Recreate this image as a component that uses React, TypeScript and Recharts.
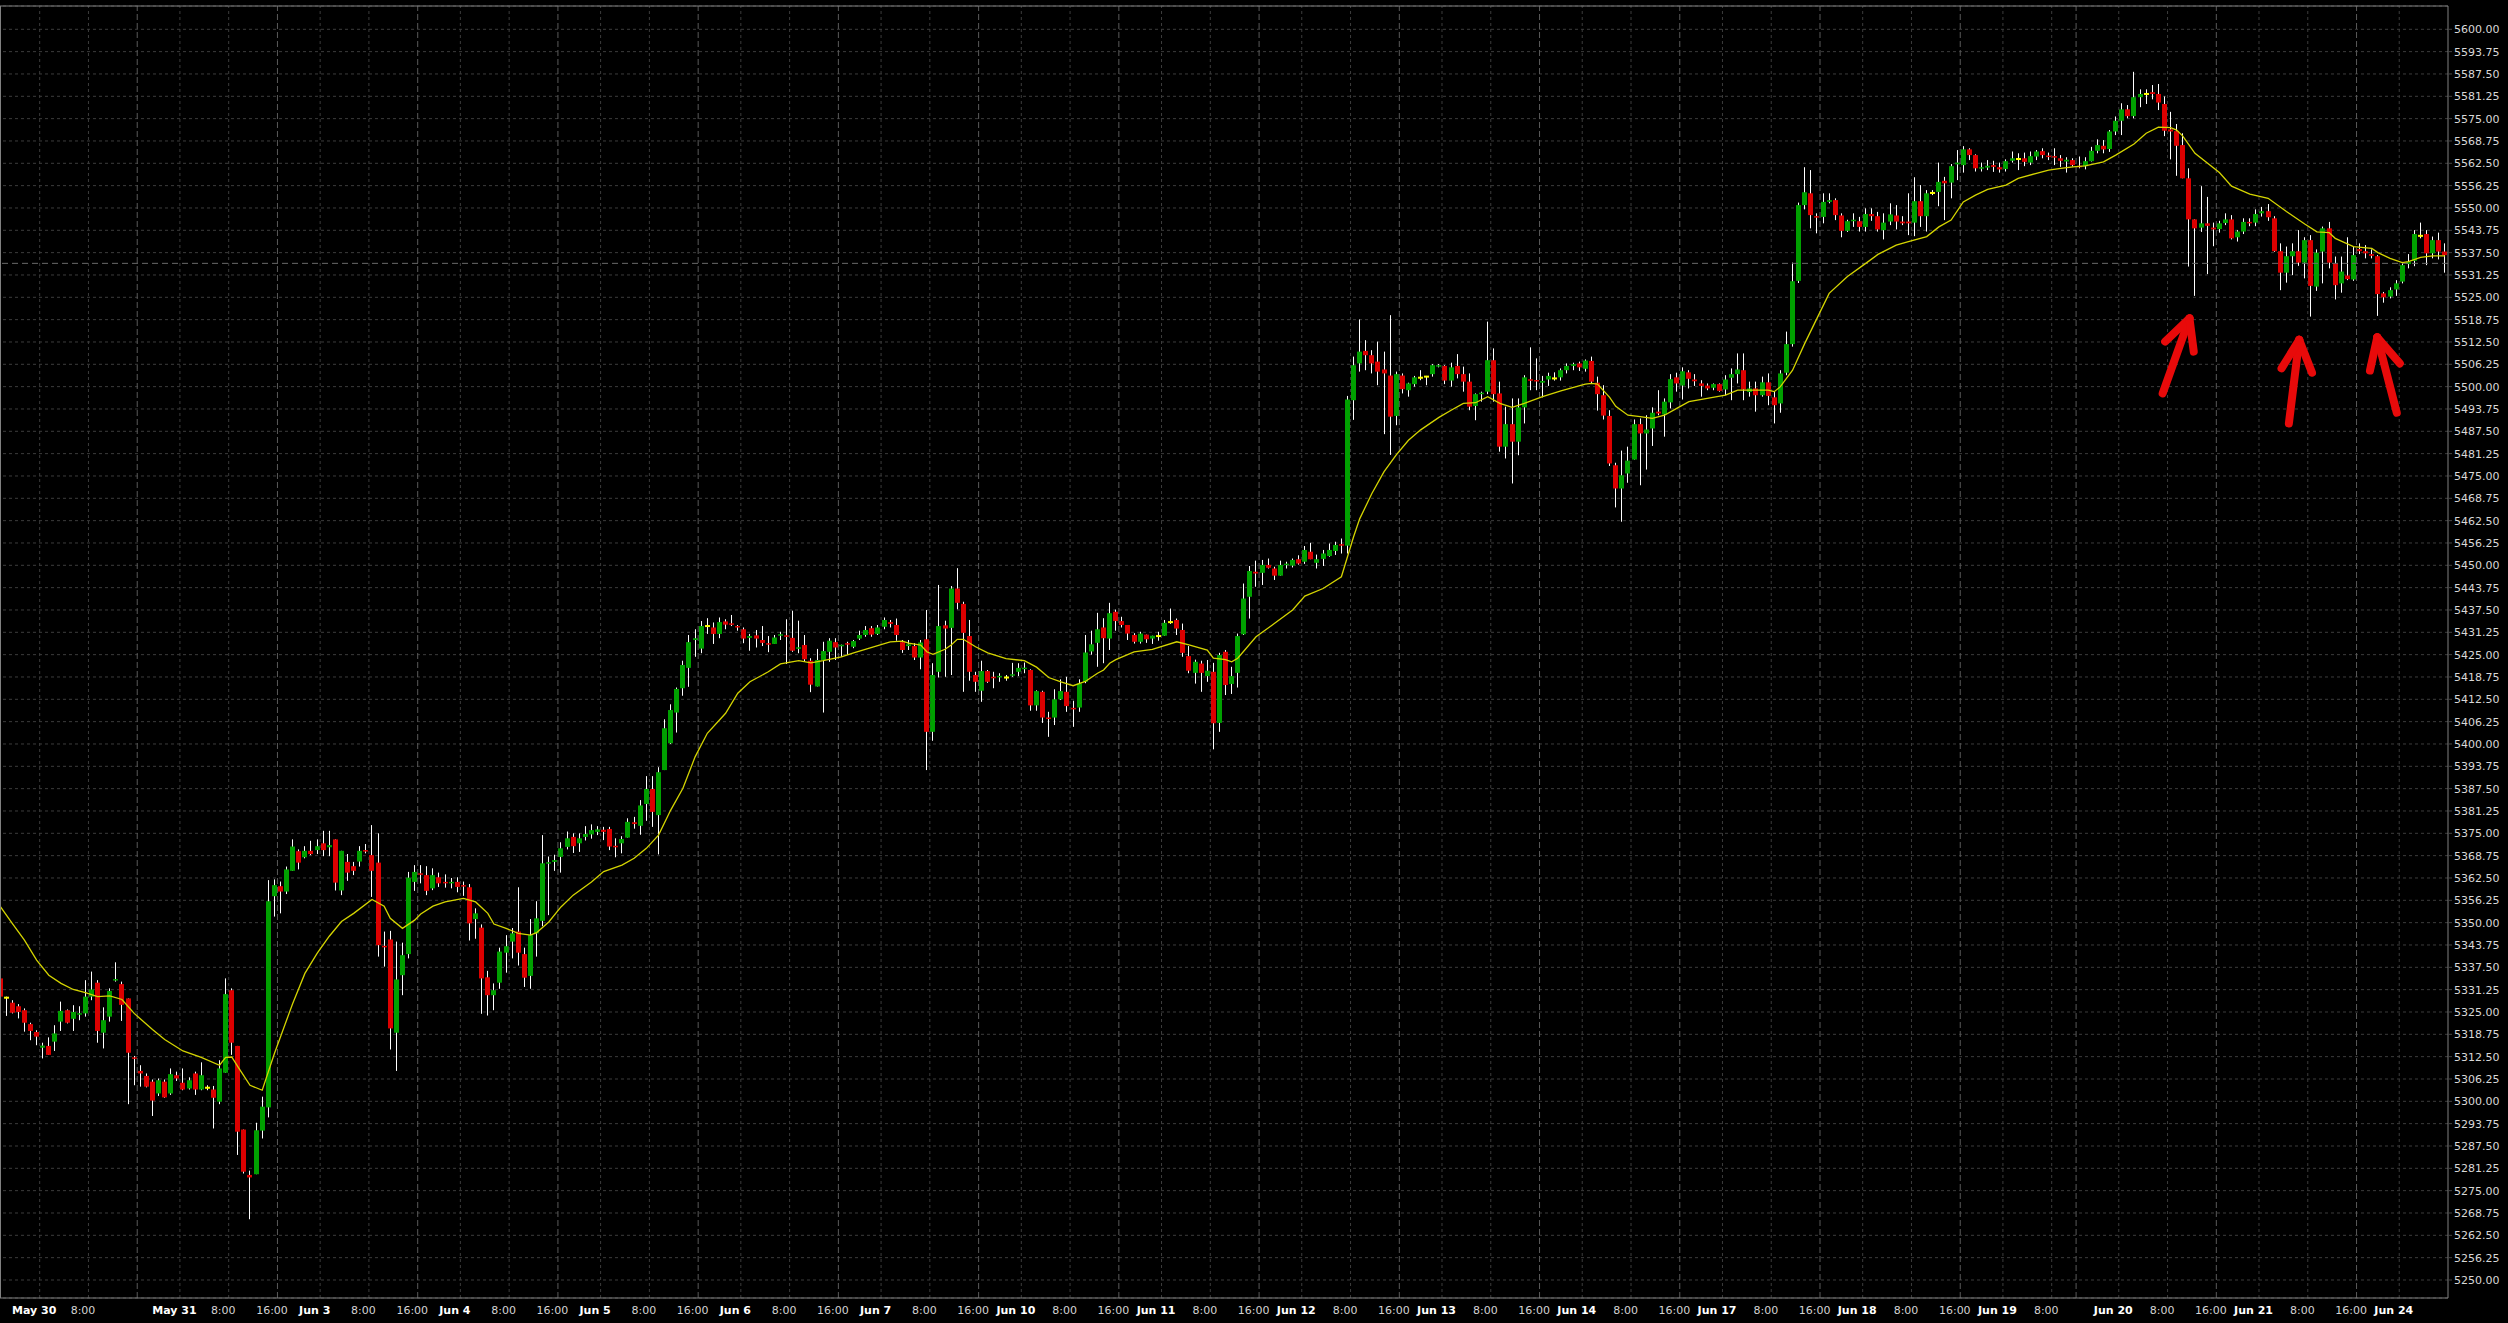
import { ComposedChart, Bar, Line, XAxis, YAxis, CartesianGrid, ReferenceLine } from "recharts"

// hourly bars, May 29 16:00 -> Jun 24 7:00 (one entry per bar)
const opens = [
  5334.4, 5329.0, 5327.6, 5326.6, 5325.5, 5321.6, 5319.4, 5315.0, 5315.5, 5316.7, // 0
  5322.3, 5325.5, 5323.1, 5324.3, 5324.6, 5329.3, 5333.2, 5319.2, 5323.7, 5333.8, // 10
  5332.8, 5328.8, 5312.3, 5308.5, 5307.1, 5305.5, 5302.2, 5305.5, 5302.2, 5307.3, // 20
  5305.2, 5303.6, 5307.8, 5303.3, 5303.8, 5303.3, 5299.9, 5308.0, 5331.1, 5315.5, // 30
  5292.1, 5279.4, 5279.6, 5291.8, 5298.3, 5357.4, 5360.2, 5358.7, 5364.5, 5370.0, // 40
  5368.3, 5370.1, 5370.3, 5372.2, 5371.1, 5373.3, 5359.0, 5367.0, 5365.8, 5367.1, // 50
  5370.3, 5368.9, 5366.8, 5343.5, 5345.3, 5319.2, 5335.3, 5341.2, 5361.4, 5363.8, // 60
  5363.3, 5359.6, 5362.7, 5361.4, 5361.0, 5361.4, 5360.5, 5359.9, 5351.0, 5348.6, // 70
  5334.7, 5329.7, 5333.2, 5341.6, 5344.7, 5347.5, 5341.2, 5335.1, 5347.0, 5350.5, // 80
  5366.6, 5367.0, 5368.4, 5371.2, 5374.0, 5372.2, 5374.0, 5374.7, 5375.4, 5376.0, // 90
  5376.2, 5371.5, 5372.2, 5373.8, 5378.1, 5377.1, 5383.2, 5387.4, 5380.1, 5392.7, // 100
  5400.2, 5408.8, 5415.6, 5421.3, 5429.1, 5426.7, 5433.0, 5432.6, 5430.8, 5434.3, // 110
  5433.7, 5433.0, 5432.1, 5429.7, 5430.4, 5429.1, 5428.2, 5428.0, 5430.3, 5430.4, // 120
  5429.7, 5426.7, 5427.7, 5423.3, 5416.1, 5423.5, 5425.8, 5428.5, 5427.4, 5428.2, // 130
  5427.2, 5429.5, 5430.5, 5432.4, 5430.8, 5432.8, 5434.1, 5433.3, 5428.5, 5427.4, // 140
  5427.4, 5424.2, 5429.3, 5403.4, 5420.2, 5433.2, 5432.5, 5443.5, 5439.2, 5430.2, // 150
  5419.3, 5414.9, 5420.4, 5418.8, 5418.7, 5418.6, 5419.1, 5420.2, 5421.0, 5420.7, // 160
  5410.8, 5414.6, 5407.4, 5407.4, 5412.5, 5414.6, 5410.1, 5410.2, 5417.4, 5425.9, // 170
  5428.3, 5432.6, 5429.5, 5437.0, 5434.4, 5433.3, 5430.5, 5428.6, 5430.6, 5429.5, // 180
  5430.2, 5430.3, 5434.1, 5434.7, 5431.9, 5424.6, 5419.9, 5422.5, 5419.0, 5420.2, // 190
  5405.9, 5425.8, 5416.8, 5419.9, 5430.7, 5441.2, 5448.2, 5447.9, 5450.1, 5449.1, // 200
  5447.1, 5450.1, 5449.9, 5451.7, 5451.0, 5453.8, 5450.7, 5451.8, 5452.6, 5454.0, // 210
  5455.9, 5455.5, 5496.2, 5506.5, 5510.0, 5508.8, 5507.0, 5504.8, 5503.1, 5491.8, // 220
  5503.1, 5499.0, 5500.7, 5502.5, 5502.8, 5503.5, 5505.6, 5505.8, 5501.7, 5505.8, // 230
  5503.5, 5501.4, 5494.6, 5497.9, 5498.6, 5507.4, 5498.1, 5483.2, 5489.5, 5484.6, // 240
  5494.2, 5502.0, 5501.8, 5501.1, 5502.0, 5502.3, 5502.6, 5504.6, 5505.8, 5506.5, // 250
  5505.0, 5507.2, 5501.1, 5497.6, 5491.8, 5478.0, 5471.5, 5475.7, 5479.6, 5489.5, // 260
  5486.9, 5488.3, 5493.0, 5492.2, 5495.6, 5502.6, 5500.3, 5504.0, 5502.0, 5500.9, // 270
  5500.3, 5499.7, 5500.7, 5499.2, 5502.5, 5503.5, 5504.6, 5498.5, 5499.5, 5497.6, // 280
  5501.2, 5497.0, 5495.3, 5503.9, 5511.9, 5529.6, 5550.8, 5554.1, 5547.7, 5547.5, // 290
  5551.7, 5552.2, 5547.9, 5543.6, 5546.3, 5546.3, 5544.7, 5548.3, 5547.7, 5543.8, // 300
  5546.2, 5547.9, 5546.2, 5546.2, 5545.9, 5551.9, 5547.7, 5554.2, 5554.5, 5557.6, // 310
  5557.1, 5562.2, 5562.0, 5566.4, 5564.8, 5561.0, 5561.3, 5562.0, 5561.4, 5560.9, // 320
  5563.2, 5563.7, 5563.9, 5562.7, 5564.4, 5565.9, 5564.6, 5564.5, 5563.9, 5563.0, // 330
  5563.4, 5561.8, 5561.7, 5563.1, 5566.0, 5567.4, 5566.5, 5571.4, 5574.4, 5577.6, // 340
  5575.7, 5581.0, 5581.9, 5582.4, 5581.9, 5579.1, 5572.0, 5571.5, 5567.6, 5558.3, // 350
  5546.8, 5544.5, 5545.7, 5544.5, 5544.1, 5545.8, 5546.8, 5541.8, 5543.4, 5546.1, // 360
  5545.9, 5548.5, 5549.1, 5547.1, 5537.9, 5531.9, 5536.5, 5537.9, 5534.7, 5541.0, // 370
  5528.0, 5537.8, 5544.3, 5534.5, 5528.9, 5531.1, 5530.0, 5538.5, 5537.9, 5537.1, // 380
  5536.5, 5526.1, 5525.2, 5527.2, 5529.4, 5534.3, 5535.2, 5542.2, 5542.7, 5537.3, // 390
  5541.0, 5537.8,
]

const highs = [
  5336.3, 5329.3, 5328.3, 5327.2, 5326.0, 5322.0, 5319.9, 5316.4, 5317.9, 5321.3,
  5327.9, 5325.7, 5326.9, 5326.6, 5333.9, 5336.3, 5333.9, 5326.3, 5331.6, 5338.9,
  5333.5, 5328.8, 5312.7, 5310.1, 5307.8, 5306.1, 5306.4, 5306.1, 5309.2, 5308.3,
  5309.2, 5306.7, 5308.3, 5310.9, 5304.5, 5304.3, 5311.5, 5334.4, 5331.6, 5315.5,
  5292.1, 5280.6, 5294.0, 5301.3, 5361.9, 5362.1, 5361.5, 5365.7, 5373.3, 5370.5,
  5371.4, 5372.9, 5373.3, 5375.7, 5375.7, 5373.3, 5370.1, 5369.2, 5367.0, 5371.4,
  5372.0, 5377.3, 5375.0, 5347.5, 5347.7, 5344.7, 5344.4, 5364.2, 5366.1, 5366.1,
  5365.8, 5365.2, 5364.0, 5363.5, 5362.5, 5362.7, 5361.5, 5360.8, 5354.0, 5349.5,
  5336.5, 5333.0, 5343.0, 5346.5, 5348.5, 5359.9, 5343.0, 5351.0, 5356.0, 5374.5,
  5368.5, 5369.0, 5372.5, 5375.5, 5375.0, 5375.0, 5377.0, 5377.5, 5377.0, 5376.8,
  5376.8, 5373.6, 5374.2, 5379.2, 5379.6, 5384.3, 5391.0, 5391.0, 5393.5, 5406.9,
  5411.1, 5415.8, 5423.3, 5430.5, 5432.1, 5434.4, 5435.2, 5434.0, 5435.4, 5434.9,
  5436.1, 5433.3, 5432.6, 5430.8, 5431.9, 5433.0, 5430.2, 5430.5, 5431.4, 5434.9,
  5437.3, 5434.5, 5430.5, 5424.0, 5426.6, 5428.6, 5429.6, 5429.6, 5427.8, 5428.6,
  5429.1, 5431.7, 5433.0, 5433.0, 5433.3, 5435.4, 5434.7, 5435.1, 5429.1, 5429.1,
  5428.2, 5429.1, 5437.5, 5422.6, 5444.5, 5434.5, 5444.2, 5449.2, 5439.8, 5434.7,
  5420.2, 5423.3, 5420.7, 5420.2, 5419.8, 5419.3, 5422.7, 5422.6, 5422.8, 5420.9,
  5415.0, 5414.9, 5409.0, 5415.3, 5418.1, 5418.8, 5412.1, 5418.1, 5430.5, 5431.7,
  5436.7, 5435.2, 5439.5, 5437.6, 5435.6, 5433.3, 5431.0, 5431.4, 5430.6, 5430.3,
  5431.4, 5434.7, 5437.9, 5435.1, 5433.7, 5427.4, 5423.6, 5423.3, 5423.5, 5422.7,
  5425.5, 5426.3, 5421.6, 5430.9, 5444.9, 5449.8, 5451.3, 5451.5, 5451.9, 5449.6,
  5451.3, 5451.0, 5451.9, 5452.8, 5455.4, 5456.3, 5453.0, 5454.3, 5456.1, 5456.6,
  5457.5, 5497.4, 5508.4, 5518.8, 5513.0, 5510.2, 5512.6, 5509.8, 5520.0, 5504.2,
  5503.7, 5501.1, 5503.0, 5504.6, 5503.0, 5506.3, 5506.3, 5506.0, 5506.7, 5509.1,
  5505.6, 5503.7, 5498.1, 5498.6, 5518.2, 5510.7, 5501.4, 5494.4, 5496.7, 5496.7,
  5503.2, 5511.0, 5507.9, 5503.0, 5503.9, 5504.0, 5505.1, 5506.5, 5506.7, 5507.0,
  5507.6, 5508.4, 5502.8, 5500.4, 5493.4, 5478.7, 5482.1, 5483.2, 5490.8, 5491.1,
  5492.0, 5494.2, 5499.0, 5496.7, 5503.5, 5503.9, 5505.4, 5504.6, 5503.5, 5501.8,
  5500.9, 5500.9, 5500.9, 5503.2, 5505.1, 5509.3, 5509.3, 5501.4, 5501.4, 5502.8,
  5503.7, 5498.6, 5504.6, 5515.4, 5534.7, 5551.5, 5561.4, 5560.6, 5548.5, 5554.1,
  5554.1, 5552.7, 5548.5, 5546.7, 5548.5, 5547.5, 5549.9, 5549.9, 5548.9, 5548.5,
  5551.3, 5550.8, 5547.7, 5554.1, 5558.6, 5556.4, 5555.0, 5555.0, 5562.7, 5558.7,
  5562.3, 5566.2, 5567.3, 5566.7, 5565.0, 5562.7, 5563.4, 5563.2, 5562.7, 5563.6,
  5565.8, 5565.3, 5565.5, 5565.8, 5566.2, 5566.7, 5565.5, 5566.7, 5564.8, 5564.2,
  5563.9, 5564.4, 5564.2, 5567.1, 5569.2, 5569.0, 5571.8, 5575.6, 5579.3, 5578.8,
  5588.1, 5583.2, 5583.2, 5584.4, 5584.7, 5581.2, 5576.9, 5573.5, 5570.9, 5561.1,
  5546.8, 5556.1, 5553.1, 5545.9, 5546.4, 5548.5, 5548.0, 5543.8, 5547.1, 5547.1,
  5549.6, 5550.3, 5551.1, 5547.7, 5540.1, 5539.2, 5540.1, 5543.8, 5541.8, 5542.4,
  5538.4, 5544.8, 5546.1, 5536.4, 5536.4, 5541.8, 5539.2, 5540.1, 5539.6, 5538.4,
  5536.8, 5526.5, 5527.8, 5529.8, 5534.9, 5537.1, 5543.8, 5545.9, 5543.8, 5542.0,
  5543.1, 5540.1,
]

const lows = [
  5329.3, 5323.9, 5324.6, 5323.2, 5319.5, 5317.1, 5315.7, 5312.0, 5313.0, 5314.1,
  5319.7, 5321.8, 5319.7, 5322.7, 5323.7, 5328.3, 5316.4, 5314.8, 5322.3, 5333.5,
  5322.5, 5299.2, 5304.5, 5304.1, 5303.9, 5295.9, 5301.5, 5301.0, 5301.8, 5305.7,
  5303.1, 5303.3, 5301.8, 5303.1, 5303.1, 5292.4, 5299.2, 5308.0, 5313.0, 5285.0,
  5279.8, 5267.0, 5279.6, 5289.6, 5295.5, 5351.7, 5352.6, 5358.0, 5364.5, 5364.9,
  5368.0, 5368.9, 5369.2, 5368.6, 5368.6, 5359.0, 5357.7, 5361.7, 5363.3, 5365.7,
  5369.4, 5357.2, 5340.5, 5337.7, 5314.5, 5308.5, 5329.7, 5340.0, 5358.9, 5361.0,
  5357.7, 5359.1, 5360.0, 5359.8, 5359.6, 5358.5, 5357.5, 5345.0, 5345.5, 5324.5,
  5324.0, 5325.5, 5331.5, 5336.0, 5340.0, 5338.0, 5332.0, 5331.5, 5340.5, 5349.0,
  5352.1, 5364.5, 5364.0, 5370.5, 5369.5, 5369.8, 5373.0, 5373.5, 5374.5, 5373.1,
  5370.3, 5368.3, 5369.4, 5373.8, 5376.3, 5374.6, 5378.5, 5376.8, 5369.1, 5392.7,
  5400.0, 5403.2, 5413.5, 5416.0, 5424.4, 5425.4, 5430.8, 5428.0, 5429.6, 5432.1,
  5433.0, 5431.7, 5428.2, 5426.1, 5427.0, 5427.4, 5425.7, 5428.0, 5429.1, 5422.4,
  5425.8, 5425.4, 5423.0, 5414.5, 5416.1, 5408.8, 5423.0, 5423.5, 5424.4, 5424.9,
  5426.8, 5429.1, 5430.0, 5430.0, 5430.5, 5432.1, 5432.6, 5428.9, 5425.5, 5426.3,
  5423.5, 5420.9, 5392.7, 5400.9, 5418.6, 5418.8, 5419.3, 5437.7, 5414.6, 5417.7,
  5414.6, 5411.8, 5417.1, 5415.6, 5417.4, 5417.7, 5418.8, 5419.0, 5419.8, 5409.3,
  5409.3, 5405.9, 5402.0, 5405.3, 5412.3, 5409.0, 5404.8, 5409.0, 5417.0, 5425.0,
  5421.6, 5422.6, 5426.3, 5431.7, 5432.6, 5429.1, 5428.1, 5428.1, 5428.3, 5428.0,
  5428.9, 5430.3, 5433.6, 5430.5, 5424.4, 5419.8, 5416.9, 5414.6, 5417.4, 5398.5,
  5403.4, 5413.7, 5414.0, 5415.8, 5430.5, 5435.1, 5444.0, 5444.5, 5449.1, 5445.9,
  5447.1, 5449.1, 5449.4, 5450.2, 5450.4, 5451.7, 5449.1, 5449.8, 5452.4, 5452.9,
  5453.3, 5453.3, 5490.7, 5504.2, 5504.6, 5503.7, 5500.4, 5486.7, 5480.9, 5489.2,
  5498.1, 5497.2, 5500.0, 5501.8, 5500.4, 5502.8, 5505.4, 5500.7, 5500.0, 5502.3,
  5498.6, 5493.4, 5490.6, 5495.8, 5497.9, 5495.8, 5481.8, 5479.9, 5472.9, 5480.8,
  5489.7, 5499.0, 5499.0, 5497.0, 5500.2, 5501.7, 5501.7, 5503.7, 5504.6, 5504.4,
  5504.2, 5500.9, 5493.3, 5490.8, 5477.8, 5466.2, 5462.2, 5473.1, 5479.6, 5472.4,
  5476.8, 5483.4, 5492.0, 5486.0, 5493.9, 5498.6, 5496.4, 5499.5, 5500.2, 5497.2,
  5499.0, 5499.0, 5498.6, 5497.6, 5496.2, 5500.9, 5496.2, 5497.2, 5493.0, 5497.2,
  5494.8, 5489.7, 5492.7, 5503.2, 5511.2, 5529.0, 5549.6, 5544.3, 5542.9, 5545.7,
  5551.3, 5546.6, 5541.8, 5543.3, 5544.7, 5543.4, 5543.4, 5546.4, 5543.4, 5541.2,
  5545.2, 5544.0, 5545.2, 5542.4, 5542.1, 5544.7, 5543.4, 5553.6, 5550.5, 5546.6,
  5552.7, 5557.8, 5559.9, 5563.4, 5560.2, 5560.2, 5560.6, 5560.1, 5559.9, 5560.2,
  5562.7, 5560.6, 5561.7, 5562.0, 5563.4, 5563.9, 5563.4, 5562.0, 5561.5, 5559.9,
  5561.6, 5561.1, 5560.8, 5563.0, 5565.3, 5565.3, 5565.7, 5570.4, 5570.4, 5575.1,
  5575.1, 5578.2, 5579.1, 5580.4, 5577.4, 5570.1, 5563.6, 5559.0, 5558.3, 5533.6,
  5525.4, 5543.3, 5531.5, 5539.3, 5543.1, 5545.2, 5541.2, 5540.6, 5542.7, 5544.9,
  5544.9, 5547.6, 5546.4, 5537.7, 5527.0, 5529.1, 5531.2, 5533.8, 5530.3, 5519.6,
  5526.8, 5528.9, 5533.1, 5524.4, 5526.3, 5529.8, 5529.6, 5537.1, 5535.9, 5535.9,
  5519.8, 5523.5, 5524.7, 5525.4, 5528.9, 5533.1, 5533.7, 5541.5, 5534.0, 5535.9,
  5535.6, 5531.9,
]

const closes = [
  5329.3, 5329.0, 5324.8, 5325.0, 5322.0, 5319.7, 5318.1, 5315.6, 5313.0, 5319.0,
  5325.3, 5322.0, 5325.0, 5324.6, 5329.3, 5331.3, 5319.7, 5322.7, 5330.9, 5334.2,
  5327.0, 5313.6, 5311.9, 5307.8, 5304.1, 5300.2, 5305.9, 5301.1, 5307.6, 5306.4,
  5303.3, 5305.9, 5303.3, 5307.3, 5303.8, 5301.0, 5309.2, 5330.0, 5316.4, 5291.5,
  5280.3, 5278.7, 5291.9, 5298.5, 5356.0, 5360.5, 5358.7, 5364.9, 5371.3, 5366.8,
  5370.1, 5369.2, 5371.4, 5370.3, 5371.7, 5361.2, 5370.1, 5364.0, 5364.5, 5370.1,
  5369.9, 5364.5, 5343.7, 5343.1, 5320.4, 5334.1, 5340.9, 5362.6, 5364.2, 5363.4,
  5358.9, 5363.3, 5361.0, 5361.0, 5361.4, 5360.0, 5360.1, 5349.8, 5352.6, 5334.4,
  5329.7, 5331.1, 5341.9, 5343.4, 5347.0, 5341.6, 5334.6, 5346.5, 5351.2, 5366.6,
  5366.8, 5367.5, 5370.8, 5373.6, 5371.4, 5373.6, 5374.8, 5375.9, 5376.1, 5375.4,
  5371.3, 5371.1, 5373.4, 5378.2, 5377.6, 5382.8, 5387.4, 5381.0, 5392.1, 5404.4,
  5409.5, 5415.4, 5422.1, 5428.5, 5429.6, 5433.0, 5433.0, 5430.8, 5434.1, 5433.4,
  5433.4, 5432.6, 5429.5, 5430.2, 5429.5, 5428.3, 5427.8, 5429.8, 5430.7, 5430.0,
  5426.1, 5427.0, 5423.7, 5416.6, 5423.5, 5426.0, 5428.9, 5427.0, 5427.7, 5427.8,
  5428.8, 5430.5, 5431.9, 5430.6, 5432.6, 5434.7, 5433.6, 5430.5, 5426.3, 5427.9,
  5424.2, 5428.4, 5403.4, 5419.3, 5433.0, 5432.3, 5443.5, 5439.5, 5431.1, 5420.2,
  5417.4, 5420.4, 5417.4, 5418.4, 5419.0, 5418.6, 5419.5, 5421.3, 5421.3, 5410.8,
  5414.8, 5407.4, 5407.0, 5412.5, 5414.8, 5410.6, 5409.7, 5416.9, 5425.6, 5427.9,
  5432.1, 5429.6, 5436.6, 5434.4, 5433.3, 5430.9, 5428.6, 5430.9, 5429.3, 5430.3,
  5430.2, 5433.9, 5434.1, 5432.3, 5425.5, 5420.5, 5423.0, 5419.9, 5420.5, 5405.8,
  5424.9, 5416.5, 5419.0, 5430.2, 5440.7, 5448.4, 5447.7, 5450.1, 5449.3, 5447.1,
  5450.1, 5450.4, 5451.5, 5450.5, 5454.3, 5451.7, 5451.7, 5453.3, 5454.3, 5455.7,
  5455.5, 5496.4, 5506.0, 5509.8, 5508.8, 5506.5, 5504.2, 5503.7, 5491.6, 5503.5,
  5499.3, 5500.9, 5502.6, 5502.5, 5502.8, 5506.0, 5506.0, 5501.7, 5505.4, 5503.5,
  5501.4, 5494.4, 5497.9, 5498.3, 5507.4, 5497.9, 5483.2, 5489.5, 5484.6, 5494.2,
  5502.6, 5501.7, 5501.5, 5501.6, 5503.0, 5502.3, 5504.6, 5505.8, 5506.3, 5505.4,
  5507.3, 5501.4, 5497.9, 5491.9, 5478.5, 5471.5, 5475.2, 5479.3, 5489.5, 5486.9,
  5488.0, 5492.7, 5492.5, 5495.8, 5502.1, 5500.9, 5504.3, 5502.2, 5501.5, 5500.2,
  5499.5, 5500.7, 5498.8, 5502.0, 5503.5, 5504.8, 5499.2, 5499.5, 5497.6, 5501.2,
  5497.4, 5494.8, 5503.7, 5511.9, 5529.5, 5550.8, 5554.4, 5548.0, 5547.3, 5551.7,
  5552.2, 5548.0, 5543.6, 5546.3, 5546.7, 5544.7, 5548.3, 5547.7, 5544.0, 5545.9,
  5548.2, 5546.2, 5545.7, 5545.7, 5551.9, 5547.7, 5554.1, 5554.2, 5557.3, 5556.9,
  5561.7, 5562.7, 5566.4, 5564.8, 5561.1, 5561.4, 5561.8, 5561.5, 5560.8, 5563.1,
  5563.9, 5563.7, 5562.9, 5564.5, 5565.8, 5564.8, 5564.3, 5564.1, 5563.2, 5563.5,
  5562.0, 5561.4, 5563.1, 5566.0, 5567.6, 5566.4, 5571.4, 5574.4, 5577.6, 5575.7,
  5581.0, 5581.9, 5581.9, 5581.9, 5579.5, 5571.6, 5571.4, 5567.4, 5558.3, 5546.8,
  5544.3, 5545.7, 5545.0, 5544.0, 5545.7, 5546.8, 5541.5, 5543.4, 5546.1, 5545.7,
  5548.3, 5549.1, 5547.4, 5537.9, 5531.9, 5536.5, 5537.9, 5534.7, 5541.0, 5528.2,
  5537.5, 5544.3, 5534.7, 5528.4, 5532.2, 5530.1, 5536.8, 5537.9, 5537.3, 5536.6,
  5525.9, 5525.0, 5527.0, 5528.9, 5534.0, 5534.9, 5542.7, 5542.2, 5537.3, 5541.0,
  5537.8, 5536.8,
]

// yellow moving average at these bars
const maBars = [
  0, 2, 4, 6, 8, 10, 12, 14, 16, 18, 20, 22, 25, 27, 30, 33, 36, 37, 38, 39, 41, 43, 45, 48, 50, 52, 54, 56, 58, 61,
  63, 64, 66, 68, 69, 71, 73, 76, 78, 80, 81, 83, 85, 87, 88, 90, 92, 94, 97, 99, 102, 104, 106, 108, 110, 112, 114,
  116, 119, 121, 123, 126, 128, 131, 133, 135, 138, 140, 143, 146, 148, 149, 151, 152, 153, 155, 156, 157, 158, 160,
  162, 165, 168, 170, 172, 174, 176, 178, 180, 181, 182, 183, 186, 189, 193, 195, 198, 199, 201, 202, 203, 206, 209,
  212, 214, 217, 220, 221, 222, 223, 225, 227, 229, 231, 233, 236, 238, 240, 242, 244, 246, 248, 250, 253, 256, 260,
  261, 262, 264, 265, 267, 269, 271, 273, 275, 277, 280, 283, 285, 287, 290, 291, 292, 294, 296, 298, 300, 303, 306,
  308, 311, 313, 316, 318, 320, 322, 324, 326, 329, 331, 334, 336, 338, 340, 342, 345, 347, 350, 352, 354, 356, 357,
  358, 360, 364, 366, 369, 372, 375, 378, 380, 382, 383, 386, 389, 390, 392, 394, 395, 397, 399, 401,
]
const maValues = [
  5354.6, 5349.8, 5345.1, 5339.5, 5335.3, 5333.0, 5331.3, 5330.4, 5329.3, 5329.5, 5328.5, 5324.6, 5320.1, 5317.3,
  5314.1, 5312.3, 5310.1, 5312.3, 5312.4, 5309.7, 5304.5, 5303.1, 5313.4, 5327.4, 5335.8, 5341.4, 5346.2, 5350.3,
  5352.6, 5356.5, 5354.6, 5351.2, 5348.4, 5350.7, 5352.4, 5354.6, 5355.8, 5356.8, 5355.8, 5352.6, 5349.6, 5348.4,
  5347.0, 5346.5, 5347.2, 5350.2, 5354.4, 5357.7, 5361.4, 5364.3, 5366.1, 5368.0, 5370.8, 5374.5, 5381.5, 5387.6,
  5396.4, 5403.0, 5408.6, 5414.2, 5417.4, 5420.2, 5422.4, 5423.3, 5422.7, 5423.3, 5424.4, 5425.5, 5427.0, 5428.6,
  5428.8, 5428.2, 5427.7, 5425.8, 5425.1, 5426.5, 5427.7, 5429.3, 5429.3, 5427.2, 5425.5, 5423.9, 5423.3, 5421.5,
  5418.6, 5417.4, 5416.3, 5417.5, 5419.8, 5420.7, 5422.6, 5423.6, 5425.8, 5426.5, 5428.6, 5427.7, 5426.3, 5424.0,
  5423.6, 5423.0, 5424.0, 5430.0, 5433.7, 5437.5, 5441.4, 5443.5, 5446.8, 5452.4, 5458.0, 5463.0, 5470.1, 5476.2,
  5480.9, 5485.0, 5487.9, 5491.4, 5493.4, 5495.3, 5495.5, 5497.2, 5495.3, 5494.2, 5495.3, 5497.2, 5498.8, 5500.7,
  5500.9, 5500.7, 5497.0, 5494.5, 5492.0, 5491.6, 5491.1, 5492.0, 5493.9, 5495.8, 5496.7, 5497.6, 5499.0, 5499.0,
  5499.0, 5498.6, 5500.0, 5504.6, 5512.1, 5519.1, 5526.1, 5530.8, 5534.5, 5537.0, 5539.6, 5540.6, 5542.0, 5544.7,
  5546.6, 5551.7, 5553.6, 5555.2, 5556.4, 5558.3, 5559.7, 5560.6, 5561.1, 5561.5, 5561.8, 5562.9, 5564.8, 5567.9,
  5570.9, 5572.6, 5572.5, 5571.8, 5570.1, 5565.3, 5559.9, 5556.1, 5553.9, 5552.7, 5549.0, 5545.5, 5543.3, 5543.1,
  5541.5, 5539.2, 5538.7, 5537.5, 5535.9, 5534.7, 5535.0, 5536.2, 5536.6, 5536.6,
]

// time axis labels, placed on the bar they belong to
const tickBars = [
  7, 15, 30, 38, 46, 53, 61, 69, 76, 84, 92, 99, 107, 115, 122, 130, 138, 145, 153, 161, 168, 176, 184, 191, 199,
  207, 214, 222, 230, 237, 245, 253, 260, 268, 276, 283, 291, 299, 306, 314, 322, 329, 337, 348, 356, 364, 371, 379,
  387, 394,
]
const tickTexts = [
  "May 30", "8:00", "May 31", "8:00", "16:00", "Jun 3", "8:00", "16:00", "Jun 4", "8:00", "16:00", "Jun 5", "8:00",
  "16:00", "Jun 6", "8:00", "16:00", "Jun 7", "8:00", "16:00", "Jun 10", "8:00", "16:00", "Jun 11", "8:00", "16:00",
  "Jun 12", "8:00", "16:00", "Jun 13", "8:00", "16:00", "Jun 14", "8:00", "16:00", "Jun 17", "8:00", "16:00",
  "Jun 18", "8:00", "16:00", "Jun 19", "8:00", "Jun 20", "8:00", "16:00", "Jun 21", "8:00", "16:00", "Jun 24",
]
// vertical grid: day start / 8:00, and the last bar of each session
const minorGridBars = [
  7, 15, 30, 38, 53, 61, 76, 84, 99, 107, 122, 130, 145, 153, 168, 176, 191, 199, 214, 222, 237, 245, 260, 268, 283,
  291, 306, 314, 329, 337, 348, 356, 371, 379, 394,
]
const sessionGridBars = [23, 46, 69, 92, 115, 138, 161, 184, 207, 230, 253, 276, 299, 322, 341, 364, 387]

const priceTicks = [
  5250, 5256.25, 5262.5, 5268.75, 5275, 5281.25, 5287.5, 5293.75, 5300, 5306.25, 5312.5, 5318.75, 5325, 5331.25,
  5337.5, 5343.75, 5350, 5356.25, 5362.5, 5368.75, 5375, 5381.25, 5387.5, 5393.75, 5400, 5406.25, 5412.5, 5418.75,
  5425, 5431.25, 5437.5, 5443.75, 5450, 5456.25, 5462.5, 5468.75, 5475, 5481.25, 5487.5, 5493.75, 5500, 5506.25,
  5512.5, 5518.75, 5525, 5531.25, 5537.5, 5543.75, 5550, 5556.25, 5562.5, 5568.75, 5575, 5581.25, 5587.5, 5593.75,
  5600,
]
const priceLow = 5244.96
const priceHigh = 5606.52
const levelLine = 5534.5

// hand-drawn red arrows (bar position, price): tail, tip, left wing, right wing
const arrows = [
  [[354.7, 5498.1], [359.1, 5519.1], [355.1, 5512.6], [359.8, 5509.8]],
  [[375.4, 5489.7], [377.1, 5513.1], [374.2, 5505.1], [379.2, 5503.9]],
  [[393.1, 5492.7], [389.9, 5513.8], [388.7, 5504.5], [393.6, 5506.5]],
]

const GREEN = "#00a000"
const RED = "#dc0000"
const DOJI = "#ffff00"
const ARROW = "#e80a0a"
const FRAME = "#808080"
const FONT = "DejaVu Sans, Verdana, sans-serif"

const maByBar = new Map(maBars.map((b, j) => [b, maValues[j]]))

const data = opens.map((open, i) => {
  const close = closes[i]
  return {
    i,
    open,
    close,
    range: [Math.min(lows[i], open, close), Math.max(highs[i], open, close)],
    ma: maByBar.has(i) ? maByBar.get(i) : null,
  }
})

function Candle(props: any) {
  const { x, y, width, height, payload } = props
  if (x == null || y == null || !payload) return null
  const [lo, hi] = payload.range
  const top = Math.min(y, y + height)
  const h = Math.abs(height)
  const ppu = hi > lo ? h / (hi - lo) : 0
  const yOf = (v: number) => top + (hi - v) * ppu
  const cx = Math.floor(x + width / 2) + 0.5
  const { open, close } = payload
  const color = close > open ? GREEN : close < open ? RED : DOJI
  let bTop = yOf(Math.max(open, close))
  let bH = yOf(Math.min(open, close)) - bTop
  if (color === DOJI) {
    bTop -= 1
    bH = 2
  } else if (bH < 1.5) {
    bTop -= (1.5 - bH) / 2
    bH = 1.5
  }
  return (
    <g>
      <line x1={cx} x2={cx} y1={top} y2={top + h} stroke="#ffffff" strokeWidth={1} />
      <rect x={cx - 2.5} y={bTop} width={5} height={bH} fill={color} />
    </g>
  )
}

function TimeTick(props: any) {
  const { x, y, payload } = props
  const j = tickBars.indexOf(payload.value)
  if (j < 0) return null
  const text = tickTexts[j]
  const isDay = !text.includes(":")
  return (
    <text
      x={x - 8.5}
      y={y + 15.5}
      textAnchor="middle"
      fontFamily={FONT}
      fontSize={11}
      fontWeight={isDay ? 700 : 400}
      fill={isDay ? "#ffffff" : "#d4d4d4"}
    >
      {text}
    </text>
  )
}

function PriceTick(props: any) {
  const { x, y, payload } = props
  return (
    <text x={x} y={y + 4} textAnchor="start" fontFamily={FONT} fontSize={11} fill="#d8d8d8">
      {Number(payload.value).toFixed(2)}
    </text>
  )
}

const pt = (p: number[]) => ({ x: p[0], y: p[1] })

export default function App() {
  return (
    <div
      style={{
        position: "fixed",
        left: 0,
        top: 0,
        width: 2508,
        height: 1323,
        background: "#000",
        overflow: "hidden",
      }}
    >
      <div style={{ position: "absolute", left: -3, top: 0 }}>
        <ComposedChart
          width={2511}
          height={1323}
          data={data}
          margin={{ top: 6, right: 0, bottom: 0, left: 0 }}
          barCategoryGap={0}
          barGap={0}
        >
          <CartesianGrid vertical={false} stroke="#3c3c3c" strokeDasharray="3 3" />
          {minorGridBars.map((b) => (
            <ReferenceLine key={"m" + b} x={b} position="start" stroke="#3c3c3c" strokeDasharray="3 3" />
          ))}
          {sessionGridBars.map((b) => (
            <ReferenceLine key={"s" + b} x={b} position="start" stroke="#5a5a5a" strokeDasharray="6 3" />
          ))}
          <ReferenceLine y={levelLine} stroke="#6a6a6a" strokeDasharray="6 4" />
          <ReferenceLine y={priceHigh} stroke={FRAME} />
          <XAxis
            dataKey="i"
            type="category"
            ticks={tickBars}
            interval={0}
            tick={<TimeTick />}
            tickLine={false}
            tickSize={0}
            tickMargin={0}
            axisLine={{ stroke: FRAME }}
            height={25}
          />
          <XAxis xAxisId="pos" type="number" dataKey="i" domain={[-0.5, 401.5]} allowDataOverflow hide />
          <YAxis
            orientation="right"
            type="number"
            domain={[priceLow, priceHigh]}
            allowDataOverflow
            ticks={priceTicks}
            interval={0}
            width={60}
            tick={<PriceTick />}
            tickLine={{ stroke: "#444" }}
            tickSize={4}
            tickMargin={2}
            axisLine={{ stroke: FRAME }}
          />
          <Bar dataKey="range" isAnimationActive={false} shape={<Candle />} />
          <Line
            dataKey="ma"
            type="linear"
            stroke="#d4d400"
            strokeWidth={1.3}
            dot={false}
            activeDot={false}
            connectNulls
            isAnimationActive={false}
          />
          {arrows.map((a, n) => [
            <ReferenceLine
              key={"as" + n}
              xAxisId="pos"
              segment={[pt(a[0]), pt(a[1])]}
              stroke={ARROW}
              strokeWidth={8}
              strokeLinecap="round"
            />,
            <ReferenceLine
              key={"al" + n}
              xAxisId="pos"
              segment={[pt(a[2]), pt(a[1])]}
              stroke={ARROW}
              strokeWidth={8}
              strokeLinecap="round"
            />,
            <ReferenceLine
              key={"ar" + n}
              xAxisId="pos"
              segment={[pt(a[3]), pt(a[1])]}
              stroke={ARROW}
              strokeWidth={8}
              strokeLinecap="round"
            />,
          ])}
        </ComposedChart>
      </div>
      <div style={{ position: "absolute", left: 0, top: 6, width: 1, height: 1292, background: FRAME }} />
    </div>
  )
}
